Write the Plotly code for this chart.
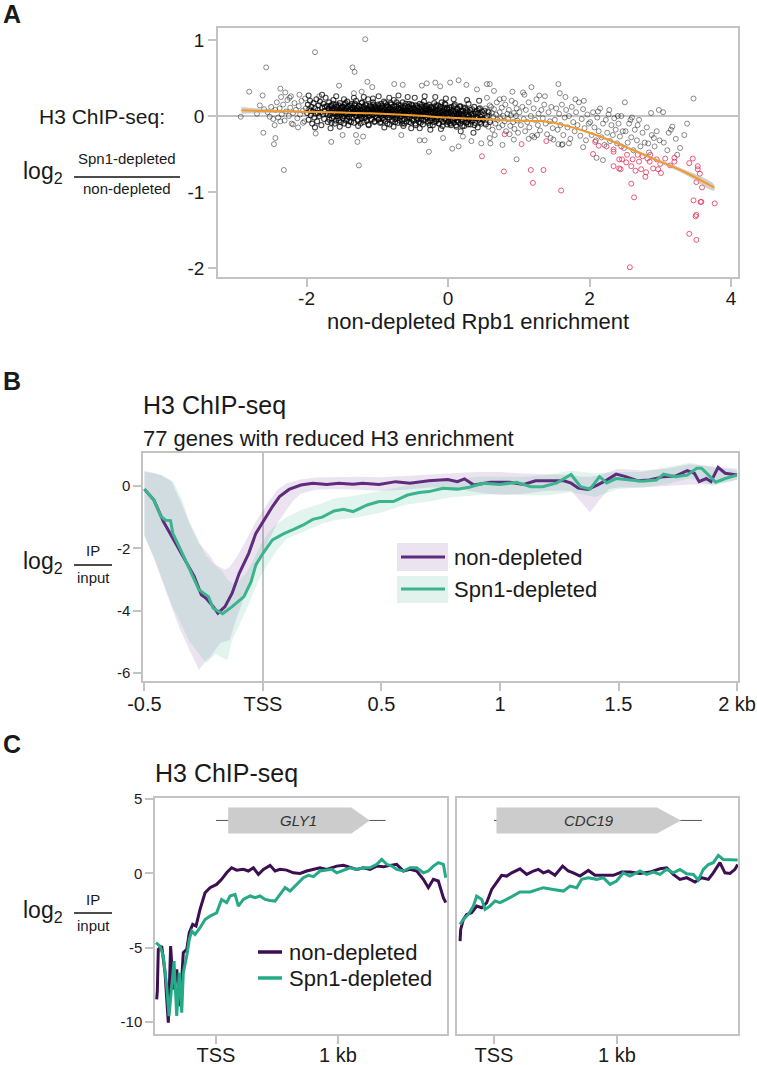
import plotly.graph_objects as go

W, H = 757, 1065
def fx(p): return p / W
def fy(p): return 1 - p / H

FONT = "Liberation Sans"
AX = "#c3c3c3"
TXT = "#1a1a1a"
PURPLE_B = "#5f2b7c"
GREEN_B = "#3bb48e"
PURPLE_C = "#3d0f52"
GREEN_C = "#26a986"

# ---------------- Panel A data (x = non-depleted Rpb1 enrichment, y = log2 ratio) ----------------
outlier_pts = [(-1.17,1.01),(-1.88,0.84),(-2.57,0.64),(-1.35,0.64),(-1.32,0.58),(-2.81,0.32),(-2.62,0.27),
    (-2.37,0.36),(-2.30,0.31),(-2.24,0.24),(-2.10,0.28),(-1.82,0.26),(-1.54,0.40),(-1.33,0.30),(-1.22,0.32),
    (-1.14,0.45),(-1.07,0.38),(-0.76,0.42),(-2.93,-0.01),(-2.61,-0.22),(-2.44,-0.29),(-2.46,-0.37),(-2.32,-0.71),
    (-1.87,-0.23),(-1.65,-0.34),(-1.49,-0.25),(-1.28,-0.34),(-1.26,-0.65),(-1.30,-0.25),(-1.20,-0.27),(-2.19,-0.11),
    (-2.05,-0.09),(-2.52,-0.01),(-2.37,-0.07),(-0.27,-0.47),(0.06,-0.43),(0.15,-0.40),(-0.33,-0.32),(0.47,-0.36),
    (0.60,-0.36),(0.97,-0.57),(1.56,-0.37),(1.62,-0.37),(-0.64,0.41),(-0.37,0.40),(-0.30,0.43),(-0.18,0.44),
    (-0.11,0.39),(0.03,0.44),(0.15,0.47),(0.26,0.41),(0.41,0.35),(0.55,0.42),(0.59,0.42),(0.65,0.33),(0.73,0.22),
    (0.91,0.32),(1.06,0.31),(1.18,0.38),(1.29,0.27),(1.56,0.42),(1.58,0.30),(-0.66,-0.25),(-0.40,-0.32),
    (-0.07,-0.29),(0.21,-0.27),(0.33,-0.33),(0.59,-0.29),(0.77,-0.38),(0.93,-0.31),(1.14,-0.30),(1.26,-0.25),
    (1.49,-0.31),(1.71,-0.36),(2.50,0.18),(3.47,0.23),(2.98,0.08),(3.04,0.05),(2.87,0.04),(3.17,-0.14),(3.15,-0.18),
    (3.34,-0.25),(3.24,-0.51),(2.91,-0.29),(2.83,-0.36),(1.91,-0.41),(2.10,-0.55),(2.19,-0.58),(1.61,-0.38),
    (2.58,-0.05),(2.68,-0.12)]

cloud_far_left = [(-2.55,0.05),(-2.5,0.12),(-2.47,-0.04),(-2.44,0.08),(-2.42,0.18),(-2.4,-0.02),(-2.38,0.1),
    (-2.35,0.02),(-2.33,0.15),(-2.31,-0.06),(-2.29,0.06),(-2.27,0.21),(-2.25,0.0),(-2.23,0.11),(-2.21,-0.1),
    (-2.19,0.04),(-2.17,0.17),(-2.15,0.08),(-2.13,-0.03),(-2.11,0.13),(-2.09,0.02),(-2.07,0.2),(-2.05,0.07),
    (-2.03,-0.07),(-2.01,0.1),(-2.6,0.09),(-2.66,0.14),(-2.7,0.03),(-2.45,-0.12),(-2.36,0.25),(-2.22,0.26),
    (-2.12,-0.15),(-2.02,0.23)]

cloud_left = [(-1.99,0.04),(-1.98,0.15),(-1.97,-0.05),(-1.96,0.09),(-1.95,0.2),(-1.94,0.01),(-1.93,0.12),
    (-1.92,-0.1),(-1.91,0.06),(-1.9,0.17),(-1.89,-0.02),(-1.88,0.1),(-1.87,0.03),(-1.86,0.22),(-1.85,-0.07),
    (-1.84,0.08),(-1.83,0.14),(-1.82,0.0),(-1.81,0.19),(-1.8,0.05),(-1.79,-0.12),(-1.78,0.11),(-1.77,0.02),
    (-1.76,0.16),(-1.75,-0.04),(-1.74,0.07),(-1.73,0.24),(-1.72,0.03),(-1.71,0.13),(-1.7,-0.08),(-1.69,0.09),
    (-1.68,0.18),(-1.67,0.01),(-1.66,0.06),(-1.65,0.14),(-1.64,-0.03),(-1.63,0.1),(-1.62,0.21),(-1.61,0.04),
    (-1.6,-0.1),(-1.59,0.08),(-1.58,0.15),(-1.57,0.0),(-1.56,0.11),(-1.55,0.05),(-1.54,-0.06),(-1.53,0.17),
    (-1.52,0.07),(-1.51,0.02),(-1.5,0.12),(-1.97,0.27),(-1.88,-0.15),(-1.78,0.28),(-1.66,-0.16),(-1.58,0.26),
    (-1.53,-0.14),(-1.94,0.07),(-1.84,0.04),(-1.74,0.12),(-1.64,0.08),(-1.56,0.03),(-1.52,0.1)]

cloud_mid_left = [(-1.49,0.05),(-1.485,-0.03),(-1.48,0.12),(-1.47,0.08),(-1.465,0.0),(-1.46,0.15),(-1.45,0.04),
    (-1.44,-0.06),(-1.43,0.1),(-1.425,0.19),(-1.42,0.02),(-1.41,0.07),(-1.40,-0.01),(-1.395,0.13),(-1.39,0.05),
    (-1.38,0.09),(-1.37,-0.08),(-1.36,0.16),(-1.355,0.03),(-1.35,0.11),(-1.34,0.06),(-1.33,-0.02),(-1.32,0.14),
    (-1.315,0.08),(-1.31,0.01),(-1.30,0.2),(-1.29,0.04),(-1.28,0.1),(-1.275,-0.05),(-1.27,0.07),(-1.26,0.13),
    (-1.25,0.02),(-1.24,0.09),(-1.235,-0.1),(-1.23,0.05),(-1.22,0.17),(-1.21,0.0),(-1.20,0.08),(-1.19,0.12),
    (-1.185,-0.03),(-1.18,0.06),(-1.17,0.15),(-1.16,0.03),(-1.155,0.1),(-1.15,-0.06),(-1.14,0.07),(-1.13,0.22),
    (-1.12,0.01),(-1.115,0.09),(-1.11,0.04),(-1.10,0.14),(-1.09,-0.04),(-1.08,0.06),(-1.075,0.11),(-1.07,0.02),
    (-1.06,0.18),(-1.05,0.05),(-1.04,-0.08),(-1.035,0.08),(-1.03,0.13),(-1.02,0.0),(-1.01,0.07),(-1.0,0.1),
    (-1.47,0.22),(-1.41,-0.12),(-1.33,0.24),(-1.27,-0.13),(-1.19,0.25),(-1.12,-0.12),(-1.06,0.23),(-1.44,0.03),
    (-1.38,0.06),(-1.31,0.09),(-1.24,0.04),(-1.18,0.02),(-1.13,0.05),(-1.08,0.09),(-1.02,0.04)]

cloud_center_left = [(-0.99,0.06),(-0.985,-0.05),(-0.98,0.13),(-0.97,0.02),(-0.965,0.09),(-0.96,-0.09),
    (-0.95,0.04),(-0.945,0.16),(-0.94,0.0),(-0.93,0.07),(-0.925,0.11),(-0.92,-0.03),(-0.91,0.05),(-0.905,0.19),
    (-0.90,0.02),(-0.89,0.09),(-0.885,-0.07),(-0.88,0.12),(-0.87,0.03),(-0.865,0.06),(-0.86,0.14),(-0.85,-0.02),
    (-0.845,0.08),(-0.84,0.01),(-0.83,0.1),(-0.825,-0.11),(-0.82,0.05),(-0.81,0.17),(-0.805,0.03),(-0.80,0.08),
    (-0.79,-0.05),(-0.785,0.12),(-0.78,0.0),(-0.77,0.06),(-0.765,0.21),(-0.76,0.02),(-0.75,0.09),(-0.745,-0.08),
    (-0.74,0.04),(-0.73,0.13),(-0.725,0.01),(-0.72,0.07),(-0.71,-0.03),(-0.705,0.1),(-0.70,0.15),(-0.69,0.03),
    (-0.685,-0.06),(-0.68,0.08),(-0.67,0.0),(-0.665,0.11),(-0.66,0.05),(-0.65,-0.1),(-0.645,0.07),(-0.64,0.18),
    (-0.63,0.02),(-0.625,0.09),(-0.62,-0.04),(-0.61,0.06),(-0.605,0.13),(-0.60,0.01),(-0.59,0.08),(-0.585,-0.07),
    (-0.58,0.04),(-0.57,0.12),(-0.565,0.0),(-0.56,0.07),(-0.55,0.16),(-0.545,-0.02),(-0.54,0.05),(-0.53,0.1),
    (-0.525,-0.09),(-0.52,0.03),(-0.51,0.08),(-0.505,0.14),(-0.98,0.26),(-0.9,-0.15),(-0.83,0.24),(-0.77,-0.14),
    (-0.7,0.27),(-0.63,-0.13),(-0.57,0.25),(-0.52,-0.16),(-0.88,0.04),(-0.74,0.05),(-0.61,0.03)]

cloud_center = [(-0.495,0.03),(-0.49,-0.06),(-0.48,0.1),(-0.475,0.01),(-0.47,0.06),(-0.46,-0.1),(-0.455,0.14),
    (-0.45,0.02),(-0.44,0.07),(-0.435,-0.03),(-0.43,0.11),(-0.42,0.0),(-0.415,0.05),(-0.41,-0.08),(-0.40,0.16),
    (-0.395,0.03),(-0.39,0.08),(-0.38,-0.04),(-0.375,0.12),(-0.37,0.01),(-0.36,0.06),(-0.355,-0.11),(-0.35,0.04),
    (-0.34,0.19),(-0.335,0.0),(-0.33,0.09),(-0.32,-0.05),(-0.315,0.13),(-0.31,0.02),(-0.30,0.07),(-0.295,-0.02),
    (-0.29,0.1),(-0.28,-0.09),(-0.275,0.05),(-0.27,0.15),(-0.26,0.0),(-0.255,0.08),(-0.25,-0.06),(-0.24,0.03),
    (-0.235,0.11),(-0.23,-0.01),(-0.22,0.06),(-0.215,-0.12),(-0.21,0.09),(-0.20,0.02),(-0.195,0.17),(-0.19,-0.04),
    (-0.18,0.05),(-0.175,0.12),(-0.17,-0.07),(-0.16,0.01),(-0.155,0.08),(-0.15,-0.02),(-0.14,0.14),(-0.135,0.03),
    (-0.13,-0.1),(-0.12,0.06),(-0.115,0.0),(-0.11,0.1),(-0.10,-0.05),(-0.095,0.04),(-0.09,0.18),(-0.08,-0.01),
    (-0.075,0.07),(-0.07,-0.08),(-0.06,0.02),(-0.055,0.11),(-0.05,-0.03),(-0.04,0.05),(-0.035,0.15),(-0.03,-0.06),
    (-0.02,0.03),(-0.015,0.09),(-0.01,-0.11),(-0.005,0.01),(-0.47,0.24),(-0.4,-0.16),(-0.33,0.26),(-0.25,-0.18),
    (-0.18,0.25),(-0.1,-0.17),(-0.03,0.23)]

cloud_center_right = [(0.005,0.02),(0.01,-0.07),(0.02,0.09),(0.03,-0.01),(0.035,0.05),(0.04,-0.12),(0.05,0.12),
    (0.06,0.0),(0.065,-0.05),(0.07,0.07),(0.08,-0.09),(0.09,0.03),(0.095,0.15),(0.10,-0.03),(0.11,0.06),
    (0.12,-0.14),(0.125,0.01),(0.13,0.1),(0.14,-0.06),(0.15,0.04),(0.16,-0.02),(0.17,0.13),(0.175,-0.1),
    (0.18,0.02),(0.19,0.07),(0.20,-0.05),(0.21,0.0),(0.22,0.11),(0.23,-0.13),(0.24,0.04),(0.25,-0.03),(0.26,0.08),
    (0.27,-0.08),(0.28,0.01),(0.29,0.16),(0.30,-0.04),(0.31,0.05),(0.32,-0.11),(0.33,0.02),(0.34,0.09),
    (0.35,-0.06),(0.36,0.0),(0.37,0.12),(0.38,-0.09),(0.39,0.03),(0.40,-0.02),(0.41,0.07),(0.42,-0.15),
    (0.43,0.04),(0.44,-0.05),(0.45,0.1),(0.46,-0.01),(0.47,-0.1),(0.48,0.06),(0.49,-0.04),(0.08,0.22),
    (0.18,-0.2),(0.27,0.21),(0.36,-0.22),(0.44,0.2),(0.15,0.02),(0.33,-0.03)]

cloud_right = [(0.51,0.03),(0.52,-0.09),(0.53,0.1),(0.54,-0.02),(0.56,0.06),(0.57,-0.14),(0.58,0.01),(0.59,0.14),
    (0.60,-0.06),(0.62,0.04),(0.63,-0.18),(0.64,-0.01),(0.65,0.09),(0.67,-0.1),(0.68,0.02),(0.69,0.18),
    (0.70,-0.05),(0.72,-0.15),(0.73,0.05),(0.74,-0.03),(0.76,0.11),(0.77,-0.12),(0.78,0.0),(0.80,-0.07),
    (0.81,0.15),(0.82,-0.2),(0.84,0.03),(0.85,-0.04),(0.86,0.08),(0.88,-0.13),(0.89,0.01),(0.90,0.2),(0.92,-0.08),
    (0.93,0.04),(0.94,-0.17),(0.96,0.0),(0.97,0.1),(0.98,-0.06),(0.99,-0.22),(0.55,0.24),(0.66,-0.25),(0.79,0.23),
    (0.87,-0.24),(0.95,0.17),(0.61,0.12),
    (1.01,0.05),(1.03,-0.12),(1.05,0.12),(1.07,-0.04),(1.09,-0.2),(1.1,0.08),(1.12,-0.08),(1.14,0.18),
    (1.15,-0.15),(1.17,0.0),(1.19,-0.26),(1.21,0.1),(1.23,-0.05),(1.25,0.22),(1.27,-0.12),(1.28,0.03),
    (1.3,-0.19),(1.32,0.08),(1.34,-0.03),(1.36,0.15),(1.38,-0.1),(1.4,-0.24),(1.42,0.05),(1.44,-0.07),
    (1.46,0.12),(1.48,-0.16),(1.08,0.28),(1.22,-0.28),(1.37,0.26),(1.45,-0.29)]

cloud_far_right = [(1.51,-0.05),(1.53,0.1),(1.55,-0.18),(1.57,0.03),(1.59,-0.12),(1.61,0.15),(1.63,-0.25),
    (1.65,-0.02),(1.67,0.08),(1.69,-0.15),(1.71,0.0),(1.73,-0.3),(1.75,0.12),(1.77,-0.08),(1.79,-0.2),(1.81,0.05),
    (1.83,-0.12),(1.85,0.18),(1.87,-0.26),(1.89,-0.04),(1.91,0.09),(1.93,-0.16),(1.95,-0.32),(1.97,0.02),
    (1.99,-0.1),(1.66,0.25),(1.8,0.22),(1.92,0.2),
    (2.01,-0.08),(2.03,-0.25),(2.05,0.05),(2.07,-0.15),(2.09,-0.32),(2.11,-0.02),(2.13,-0.2),(2.15,0.1),
    (2.17,-0.28),(2.19,-0.1),(2.21,-0.38),(2.23,-0.05),(2.25,-0.22),(2.27,0.02),(2.29,-0.33),(2.31,-0.12),
    (2.33,-0.25),(2.35,-0.03),(2.37,-0.18),(2.39,-0.36),(2.41,-0.1),(2.43,-0.27),(2.45,0.0),(2.47,-0.2),
    (2.49,-0.42),(2.12,0.06),(2.28,0.08),(2.4,0.0),
    (2.51,-0.2),(2.54,-0.35),(2.56,-0.1),(2.59,-0.28),(2.62,-0.45),(2.64,-0.18),(2.67,-0.32),(2.7,-0.05),
    (2.72,-0.4),(2.75,-0.22),(2.78,-0.35),(2.81,-0.15),(2.84,-0.48),(2.88,-0.25),(2.92,-0.4),(2.95,-0.2),
    (2.99,-0.32),(2.6,-0.02),(3.05,-0.35),(3.1,-0.45),(3.22,-0.3),(3.28,-0.42),(3.12,-0.22),(3.38,-0.1)]

cloud_core_a = [(-1.695,0.02),(-1.688,0.1),(-1.676,-0.05),(-1.662,0.13),(-1.655,0.04),(-1.648,-0.09),
    (-1.637,0.07),(-1.626,0.16),(-1.618,-0.01),(-1.607,0.09),(-1.596,0.03),(-1.584,-0.06),(-1.577,0.12),
    (-1.566,0.06),(-1.553,-0.03),(-1.545,0.14),(-1.537,0.01),(-1.526,0.08),(-1.514,-0.08),(-1.506,0.05),
    (-1.497,0.11),(-1.488,0.0),(-1.476,0.06),(-1.468,-0.1),(-1.457,0.09),(-1.449,0.17),(-1.438,0.03),
    (-1.427,-0.04),(-1.418,0.12),(-1.406,0.06),(-1.397,-0.07),(-1.386,0.02),(-1.378,0.14),(-1.366,0.08),
    (-1.357,-0.01),(-1.346,0.1),(-1.338,0.04),(-1.327,-0.09),(-1.316,0.16),(-1.305,0.07),(-1.296,0.0),
    (-1.284,0.11),(-1.276,-0.06),(-1.265,0.05),(-1.254,0.13),(-1.246,0.01),(-1.236,0.08),(-1.224,-0.03),
    (-1.216,0.18),(-1.205,0.04),(-1.194,-0.08),(-1.186,0.1),(-1.175,0.06),(-1.166,-0.02),(-1.154,0.14),
    (-1.146,0.03),(-1.137,0.09),(-1.125,-0.11),(-1.116,0.07),(-1.105,0.0),(-1.096,0.12),(-1.085,0.05),
    (-1.076,-0.05),(-1.064,0.09),(-1.056,0.15),(-1.045,0.02),(-1.036,-0.07),(-1.024,0.11),(-1.016,0.04),
    (-1.006,-0.02)]

cloud_core_b = [(-0.996,0.08),(-0.987,0.15),(-0.976,-0.04),(-0.968,0.05),(-0.957,0.11),(-0.948,-0.08),
    (-0.936,0.02),(-0.927,0.13),(-0.918,0.06),(-0.906,-0.05),(-0.897,0.09),(-0.888,0.17),(-0.877,0.0),
    (-0.866,0.07),(-0.857,-0.1),(-0.846,0.12),(-0.838,0.04),(-0.826,-0.02),(-0.817,0.1),(-0.806,0.15),
    (-0.797,0.01),(-0.786,-0.07),(-0.777,0.08),(-0.766,0.03),(-0.757,0.13),(-0.746,-0.04),(-0.736,0.06),
    (-0.727,0.18),(-0.716,0.0),(-0.707,-0.09),(-0.696,0.1),(-0.687,0.05),(-0.676,-0.02),(-0.667,0.14),
    (-0.656,0.07),(-0.647,-0.06),(-0.636,0.02),(-0.627,0.11),(-0.616,-0.1),(-0.607,0.04),(-0.596,0.16),
    (-0.587,0.08),(-0.576,-0.03),(-0.567,0.06),(-0.556,0.12),(-0.547,-0.08),(-0.536,0.01),(-0.527,0.09),
    (-0.516,0.15),(-0.507,-0.05),(-0.496,0.05),(-0.487,0.11),(-0.476,-0.01),(-0.467,0.08),(-0.456,-0.12),
    (-0.447,0.03),(-0.436,0.13),(-0.427,0.06),(-0.416,-0.04),(-0.407,0.1),(-0.396,0.0),(-0.387,-0.09),
    (-0.376,0.07),(-0.367,0.15),(-0.356,0.02),(-0.347,-0.06),(-0.336,0.11),(-0.327,0.04),(-0.316,-0.02),
    (-0.307,0.09)]

cloud_core_c = [(-0.296,0.13),(-0.286,-0.07),(-0.277,0.02),(-0.266,0.08),(-0.257,-0.12),(-0.246,0.05),
    (-0.237,0.12),(-0.226,-0.03),(-0.217,0.04),(-0.206,0.1),(-0.197,-0.08),(-0.186,0.0),(-0.177,0.07),
    (-0.166,0.14),(-0.157,-0.05),(-0.146,0.03),(-0.137,0.09),(-0.126,-0.1),(-0.117,0.05),(-0.106,0.12),
    (-0.097,-0.02),(-0.086,0.06),(-0.077,-0.13),(-0.066,0.01),(-0.057,0.08),(-0.046,0.16),(-0.037,-0.04),
    (-0.026,0.04),(-0.017,0.1),(-0.006,-0.08),(0.004,0.05),(0.013,-0.02),(0.024,0.11),(0.033,-0.1),(0.044,0.03),
    (0.053,0.08),(0.064,-0.06),(0.073,0.0),(0.084,0.13),(0.093,-0.04),(0.104,0.06),(0.113,-0.12),(0.124,0.02),
    (0.133,0.09),(0.144,-0.08),(0.153,0.04),(0.164,-0.01),(0.173,0.12),(0.184,-0.06),(0.193,0.03),
    (0.204,-0.13),(0.213,0.07),(0.224,0.0),(0.233,-0.05),(0.244,0.1),(0.253,-0.09),(0.264,0.02),(0.273,0.06),
    (0.284,-0.11),(0.293,0.0),(0.314,0.08),(0.334,-0.07),(0.354,0.03),(0.374,-0.12),(0.394,0.05),(0.414,-0.03),
    (0.434,0.09),(0.454,-0.08),(0.474,0.02),(0.494,-0.05),(0.514,0.07),(0.534,-0.11),(0.554,0.0),(0.574,0.05),
    (0.594,-0.08)]

reduced_pts = [(0.48,-0.53),(0.80,-0.24),(1.04,-0.37),(1.39,-0.33),(0.79,-0.73),(1.17,-0.71),(1.35,-0.71),
    (1.20,-0.88),(1.60,-0.98),(2.05,-0.50),(2.34,-0.44),(2.34,-0.47),(2.24,-0.40),(2.08,-0.34),(2.34,-0.66),
    (2.42,-0.69),(2.44,-0.70),(2.46,-0.57),(2.59,-0.66),(2.61,-0.57),(2.65,-0.72),(2.73,-0.70),(2.80,-0.74),
    (2.79,-0.80),(2.59,-0.89),(2.63,-1.07),(2.57,-1.99),(2.68,-0.51),(2.75,-0.53),(2.82,-0.56),(2.86,-0.51),
    (2.95,-0.57),(3.00,-0.63),(2.97,-0.70),(3.01,-0.75),(3.07,-0.56),(3.14,-0.65),(3.20,-0.55),(3.41,-0.62),
    (3.46,-0.56),(3.53,-0.66),(3.53,-0.70),(3.56,-0.76),(3.51,-0.87),(3.59,-0.94),(3.47,-1.11),(3.57,-1.13),
    (3.58,-1.13),(3.77,-1.15),(3.51,-1.30),(3.50,-1.32),(3.41,-1.55),(3.51,-1.63),(2.42,-0.57),(2.52,-0.61),
    (2.13,-0.39),(2.45,-0.40),(2.53,-0.51),(2.70,-0.60),(2.90,-0.69),(3.20,-0.60),(2.85,-0.60)]

loess_x = [-2.92,-2.5,-2.0,-1.5,-1.1,-0.5,0.0,0.5,0.88,1.35,1.68,2.0,2.29,2.62,2.95,3.33,3.76]
loess_y = [0.075,0.065,0.055,0.045,0.035,0.01,-0.02,-0.04,-0.06,-0.07,-0.13,-0.22,-0.32,-0.45,-0.58,-0.73,-0.94]
loess_se = [0.045,0.025,0.012,0.008,0.006,0.005,0.005,0.006,0.008,0.01,0.012,0.014,0.016,0.018,0.022,0.03,0.04]

# ---------------- Panel B data (kb from TSS, log2 IP/input) ----------------
b_nd_x = [-0.5,-0.46,-0.42,-0.38,-0.34,-0.29,-0.26,-0.24,-0.21,-0.19,-0.16,-0.13,-0.10,-0.06,-0.03,0.0,0.04,0.07,
    0.11,0.16,0.21,0.27,0.32,0.38,0.42,0.49,0.56,0.62,0.70,0.78,0.82,0.85,0.89,0.96,1.04,1.10,1.15,1.27,1.30,
    1.33,1.37,1.41,1.45,1.49,1.53,1.58,1.63,1.69,1.74,1.79,1.82,1.84,1.87,1.89,1.92,1.95,1.98,2.0]
b_nd_y = [-0.1,-0.45,-1.14,-1.68,-2.21,-2.9,-3.49,-3.6,-3.87,-4.08,-3.87,-3.44,-2.8,-2.16,-1.52,-1.14,-0.66,-0.34,
    -0.11,0.03,0.09,0.05,0.09,0.06,0.09,0.05,0.14,0.09,0.17,0.21,0.14,0.23,0.03,0.12,0.12,0.05,0.17,0.17,0.09,
    -0.07,-0.11,0.03,0.19,0.38,0.30,0.17,0.19,0.30,0.32,0.49,0.41,0.14,0.24,0.14,0.6,0.41,0.37,0.35]
b_sd_x = [-0.5,-0.46,-0.43,-0.41,-0.39,-0.38,-0.34,-0.29,-0.27,-0.23,-0.21,-0.17,-0.13,-0.08,-0.05,-0.03,0.0,0.04,
    0.09,0.13,0.17,0.21,0.25,0.30,0.34,0.38,0.44,0.49,0.55,0.61,0.66,0.70,0.76,0.82,0.87,0.93,1.0,1.07,1.13,1.18,
    1.24,1.30,1.34,1.38,1.42,1.45,1.49,1.55,1.60,1.66,1.69,1.74,1.79,1.83,1.85,1.88,1.91,1.95,2.0]
b_sd_y = [-0.1,-0.45,-0.98,-1.1,-1.11,-1.52,-2.16,-2.96,-3.33,-3.55,-3.92,-4.1,-3.87,-3.55,-3.07,-2.53,-2.16,-1.73,
    -1.52,-1.39,-1.25,-1.07,-1.0,-0.8,-0.75,-0.82,-0.61,-0.5,-0.5,-0.29,-0.21,-0.18,-0.07,-0.1,-0.04,0.09,0.05,
    0.12,-0.02,-0.02,0.1,0.37,-0.02,-0.1,0.3,0.1,0.24,0.19,0.15,0.19,0.38,0.3,0.35,0.57,0.57,0.35,0.12,0.24,0.35]
b_nd_band_x = [-0.5,-0.46,-0.43,-0.385,-0.35,-0.31,-0.27,-0.24,-0.22,-0.20,-0.18,-0.16,-0.14,-0.11,-0.07,-0.03,
    0.02,0.06,0.10,0.13,0.16,0.22,0.3,0.4,0.5,0.6,0.7,0.8,0.9,1.0,1.1,1.2,1.3,1.34,1.38,1.42,1.46,1.5,1.6,1.7,
    1.8,1.9,2.0]
b_nd_band_hi = [0.46,0.42,0.35,0.14,-0.45,-1.2,-1.84,-2.1,-2.27,-2.53,-2.6,-2.69,-2.6,-2.27,-1.73,-1.14,-0.55,
    -0.13,0.09,0.15,0.21,0.27,0.28,0.3,0.28,0.32,0.38,0.42,0.45,0.45,0.4,0.38,0.35,0.3,0.3,0.35,0.45,0.55,0.5,
    0.55,0.7,0.62,0.55]
b_nd_band_lo = [-1.6,-2.3,-2.9,-3.9,-4.6,-5.26,-5.9,-5.6,-5.47,-5.25,-5.04,-5.0,-4.94,-4.2,-3.4,-2.6,-1.8,-1.2,
    -0.75,-0.45,-0.25,-0.12,-0.1,-0.12,-0.15,-0.12,-0.05,-0.05,-0.2,-0.3,-0.25,-0.15,-0.15,-0.5,-0.85,-0.45,
    -0.1,-0.05,-0.05,0.0,0.05,0.05,0.2]
b_sd_band_x = [-0.5,-0.46,-0.42,-0.38,-0.34,-0.31,-0.27,-0.24,-0.20,-0.17,-0.15,-0.13,-0.11,-0.07,-0.04,-0.01,
    0.02,0.06,0.10,0.16,0.25,0.3,0.4,0.5,0.6,0.7,0.8,0.9,1.0,1.1,1.2,1.3,1.4,1.5,1.6,1.7,1.8,1.9,2.0]
b_sd_band_hi = [0.5,0.42,0.32,0.15,-0.45,-1.15,-1.8,-2.25,-2.55,-2.75,-3.0,-3.12,-3.1,-2.8,-2.37,-1.9,-1.52,
    -1.2,-1.0,-0.77,-0.55,-0.4,-0.3,-0.15,0.0,0.1,0.2,0.3,0.3,0.3,0.35,0.5,0.4,0.45,0.45,0.6,0.75,0.6,0.5]
b_sd_band_lo = [-1.6,-2.3,-3.1,-3.9,-4.5,-5.0,-5.4,-5.68,-5.4,-5.5,-5.58,-4.94,-4.6,-3.97,-3.4,-2.9,-2.5,-2.05,
    -1.7,-1.5,-1.2,-1.1,-1.0,-0.85,-0.6,-0.5,-0.35,-0.3,-0.25,-0.3,-0.3,-0.2,-0.35,-0.1,-0.05,0.05,0.25,0.0,0.2]
b_xticks = [-0.5, 0, 0.5, 1, 1.5, 2]
b_xticklabels = ["-0.5", "TSS", "0.5", "1", "1.5", "2 kb"]

# ---------------- Panel C data (single genes) ----------------
gly1_nd_x = [-0.486,-0.481,-0.473,-0.445,-0.418,-0.391,-0.372,-0.350,-0.322,-0.295,-0.268,-0.240,-0.219,-0.191,
    -0.164,-0.131,-0.090,-0.049,0.005,0.046,0.087,0.128,0.169,0.224,0.265,0.306,0.347,0.388,0.443,0.484,0.525,
    0.579,0.634,0.689,0.743,0.798,0.852,0.907,0.989,1.044,1.098,1.153,1.208,1.262,1.317,1.372,1.426,1.481,
    1.536,1.590,1.645,1.699,1.740,1.781,1.822,1.863,1.883]
gly1_nd_y = [-8.47,-7.91,-5.11,-4.89,-6.68,-10.04,-4.89,-7.80,-6.46,-8.92,-5.33,-5.11,-3.99,-3.43,-3.54,-2.42,
    -1.30,-0.96,-0.74,-0.40,0.04,0.38,0.22,0.27,0.16,0.38,-0.07,0.27,0.54,0.16,0.27,0.22,0.04,0.0,0.16,0.27,
    0.38,0.27,0.49,0.54,0.38,0.27,0.38,0.27,0.49,0.44,0.54,0.61,0.16,0.27,0.16,-0.40,-0.96,-0.40,-0.51,-1.64,-1.97]
gly1_sd_x = [-0.492,-0.459,-0.432,-0.404,-0.385,-0.363,-0.344,-0.322,-0.301,-0.281,-0.268,-0.240,-0.219,-0.199,
    -0.172,-0.131,-0.090,-0.049,0.005,0.046,0.087,0.115,0.156,0.183,0.224,0.279,0.320,0.361,0.402,0.443,0.484,
    0.525,0.566,0.607,0.661,0.716,0.757,0.798,0.852,0.893,0.948,0.989,1.044,1.098,1.153,1.208,1.262,1.317,
    1.358,1.399,1.440,1.481,1.536,1.590,1.645,1.699,1.740,1.781,1.822,1.863,1.883]
gly1_sd_y = [-4.66,-4.89,-5.56,-7.58,-9.59,-7.58,-5.90,-9.59,-6.68,-9.37,-6.68,-5.56,-4.44,-3.88,-4.10,-3.65,
    -3.10,-2.87,-2.65,-1.75,-1.97,-1.52,-1.41,-2.20,-1.75,-1.52,-1.64,-1.52,-1.75,-1.82,-1.86,-1.41,-0.96,
    -1.19,-0.74,-0.29,-0.13,-0.22,0.16,0.22,0.27,0.04,0.20,0.38,0.27,0.38,0.38,0.61,0.94,0.61,0.49,0.27,0.16,
    0.38,0.38,0.04,0.16,0.49,0.72,0.61,-0.29]
cdc19_nd_x = [-0.276,-0.271,-0.249,-0.222,-0.182,-0.141,-0.100,-0.060,-0.019,0.022,0.062,0.103,0.144,0.211,
    0.266,0.320,0.360,0.401,0.442,0.496,0.558,0.604,0.645,0.699,0.767,0.821,0.889,0.970,1.038,1.106,1.187,
    1.268,1.350,1.404,1.458,1.512,1.566,1.634,1.688,1.743,1.783,1.837,1.878,1.919,1.959,1.981]
cdc19_nd_y = [-4.55,-3.77,-3.09,-2.76,-2.64,-2.20,-2.31,-1.97,-1.08,-0.63,-0.13,-0.18,0.04,0.31,-0.07,0.16,
    0.27,0.04,0.16,-0.13,0.49,0.16,0.04,-0.18,0.20,-0.13,-0.13,-0.13,0.09,0.09,0.0,0.09,0.31,0.38,-0.07,-0.40,
    -0.29,-0.58,-0.29,-0.40,0.04,0.72,0.04,0.0,0.27,0.60]
cdc19_sd_x = [-0.276,-0.249,-0.209,-0.168,-0.141,-0.100,-0.073,-0.033,0.008,0.049,0.103,0.157,0.211,0.293,
    0.347,0.401,0.482,0.564,0.618,0.672,0.713,0.767,0.835,0.889,0.943,0.997,1.051,1.106,1.187,1.241,1.295,
    1.350,1.404,1.458,1.512,1.566,1.621,1.661,1.702,1.743,1.783,1.824,1.864,1.919,1.981]
cdc19_sd_y = [-3.43,-3.09,-2.76,-2.20,-1.52,-1.75,-2.42,-2.20,-1.86,-1.97,-1.75,-1.52,-1.25,-1.25,-1.08,-0.96,
    -1.08,-1.19,-0.85,-0.96,-0.40,-0.29,-0.40,-0.29,-0.74,-0.51,0.04,-0.18,0.16,-0.07,0.09,-0.07,0.27,0.04,
    0.27,-0.02,-0.07,-0.45,0.27,0.60,0.72,1.21,0.94,0.90,0.90]
gene_names = ["GLY1", "CDC19"]
gene_cds_start = [0.10, 0.02]
gene_cds_end = [1.26, 1.52]
gene_tx_start = [0.0, 0.0]
gene_tx_end = [1.39, 1.69]
c_xticks = [0, 1]
c_xticklabels = ["TSS", "1 kb"]

# ---------------- figure ----------------
fig = go.Figure()

sparse_pts = outlier_pts + cloud_far_left + cloud_right + cloud_far_right
dense_pts = (cloud_left + cloud_mid_left + cloud_center_left + cloud_center + cloud_center_right
             + cloud_core_a + cloud_core_b + cloud_core_c)
fig.add_trace(go.Scatter(x=[p[0] for p in sparse_pts], y=[p[1] for p in sparse_pts], mode="markers",
    marker=dict(symbol="circle-open", size=5, color="rgba(0,0,0,0.5)", line=dict(width=0.9)),
    xaxis="x", yaxis="y", showlegend=False, hoverinfo="skip"))
fig.add_trace(go.Scatter(x=[p[0] for p in dense_pts], y=[p[1] for p in dense_pts], mode="markers",
    marker=dict(symbol="circle-open", size=5, color="rgba(0,0,0,0.72)", line=dict(width=1.1)),
    xaxis="x", yaxis="y", showlegend=False, hoverinfo="skip"))
fig.add_trace(go.Scatter(x=[p[0] for p in reduced_pts], y=[p[1] for p in reduced_pts], mode="markers",
    marker=dict(symbol="circle-open", size=5, color="rgba(226,40,80,0.85)", line=dict(width=0.9)),
    xaxis="x", yaxis="y", showlegend=False, hoverinfo="skip"))
band_x = loess_x + loess_x[::-1]
band_y = [y + s for y, s in zip(loess_y, loess_se)] + [y - s for y, s in zip(loess_y, loess_se)][::-1]
fig.add_trace(go.Scatter(x=band_x, y=band_y, fill="toself", mode="lines", line=dict(width=0, shape="spline"),
    fillcolor="rgba(170,170,170,0.55)", xaxis="x", yaxis="y", showlegend=False, hoverinfo="skip"))
fig.add_trace(go.Scatter(x=loess_x, y=loess_y, mode="lines", line=dict(color="#f39a2b", width=2, shape="spline"),
    xaxis="x", yaxis="y", showlegend=False, hoverinfo="skip"))

def band(xs, lo, hi, color, ax, ay):
    fig.add_trace(go.Scatter(x=xs + xs[::-1], y=hi + lo[::-1], fill="toself", mode="lines",
        line=dict(width=0), fillcolor=color, xaxis=ax, yaxis=ay, showlegend=False, hoverinfo="skip"))

band(b_nd_band_x, b_nd_band_lo, b_nd_band_hi, "rgba(140,90,165,0.17)", "x2", "y2")
band(b_sd_band_x, b_sd_band_lo, b_sd_band_hi, "rgba(60,180,140,0.15)", "x2", "y2")
fig.add_trace(go.Scatter(x=b_nd_x, y=b_nd_y, mode="lines", line=dict(color=PURPLE_B, width=3),
    xaxis="x2", yaxis="y2", showlegend=False))
fig.add_trace(go.Scatter(x=b_sd_x, y=b_sd_y, mode="lines", line=dict(color=GREEN_B, width=3),
    xaxis="x2", yaxis="y2", showlegend=False))

# gene models in panel C
GENE_Y, GENE_H = 3.56, 0.87
for i, (ax, ay) in enumerate([("x3", "y3"), ("x4", "y4")]):
    s, e = gene_cds_start[i], gene_cds_end[i]
    tip = 0.13 * (e - s)
    fig.add_trace(go.Scatter(x=[gene_tx_start[i], gene_tx_end[i]], y=[GENE_Y, GENE_Y], mode="lines",
        line=dict(color="#555555", width=1), xaxis=ax, yaxis=ay, showlegend=False, hoverinfo="skip"))
    fig.add_trace(go.Scatter(x=[s, e - tip, e, e - tip, s, s],
        y=[GENE_Y - GENE_H, GENE_Y - GENE_H, GENE_Y, GENE_Y + GENE_H, GENE_Y + GENE_H, GENE_Y - GENE_H],
        fill="toself", mode="lines", line=dict(width=0), fillcolor="#cccccc",
        xaxis=ax, yaxis=ay, showlegend=False, hoverinfo="skip"))

for xs, ys, col, ax, ay in [(gly1_nd_x, gly1_nd_y, PURPLE_C, "x3", "y3"), (gly1_sd_x, gly1_sd_y, GREEN_C, "x3", "y3"),
                            (cdc19_nd_x, cdc19_nd_y, PURPLE_C, "x4", "y4"), (cdc19_sd_x, cdc19_sd_y, GREEN_C, "x4", "y4")]:
    fig.add_trace(go.Scatter(x=xs, y=ys, mode="lines", line=dict(color=col, width=3),
        xaxis=ax, yaxis=ay, showlegend=False))

def axis(**kw):
    d = dict(showline=True, mirror=True, linecolor=AX, linewidth=1.5, ticks="outside", ticklen=8,
             tickwidth=1.5, tickcolor=AX, showgrid=False, zeroline=False, automargin=False,
             tickfont=dict(family=FONT, size=19, color=TXT))
    d.update(kw)
    return d

fig.update_layout(
    width=W, height=H, margin=dict(l=0, r=0, t=0, b=0, pad=0, autoexpand=False), autosize=False,
    paper_bgcolor="white", plot_bgcolor="white", showlegend=False,
    font=dict(family=FONT, color=TXT),
    xaxis=axis(domain=[fx(218), fx(738)], range=[-3.251, 4.099], tickvals=[-2, 0, 2, 4],
               ticktext=["-2", "0", "2", "4"], anchor="y", ticklabelstandoff=-5),
    yaxis=axis(domain=[fy(277), fy(28)], range=[-2.118, 1.158], tickvals=[1, 0, -1, -2],
               ticktext=["1", "0", "-1", "-2"], anchor="x", zeroline=True, zerolinecolor=AX, zerolinewidth=1.5),
    xaxis2=axis(domain=[fx(143), fx(738)], range=[-0.506, 2.004], tickvals=b_xticks, ticktext=b_xticklabels,
                anchor="y2", zeroline=True, zerolinecolor=AX, zerolinewidth=1.5, ticklabelstandoff=-4,
                tickfont=dict(family=FONT, size=20, color=TXT)),
    yaxis2=axis(domain=[fy(681), fy(453)], range=[-6.257, 1.059], tickvals=[0, -2, -4, -6],
                ticktext=["0", "-2", "-4", "-6"], anchor="x2", tickfont=dict(family=FONT, size=15, color=TXT)),
    xaxis3=axis(domain=[fx(155), fx(447)], range=[-0.5, 1.893], tickvals=c_xticks, ticktext=c_xticklabels,
                anchor="y3", ticklabelstandoff=-6, tickfont=dict(family=FONT, size=20, color=TXT)),
    yaxis3=axis(domain=[fy(1034), fy(798)], range=[-10.8, 5.07], tickvals=[5, 0, -5, -10],
                ticktext=["5", "0", "-5", "-10"], anchor="x3", tickfont=dict(family=FONT, size=15, color=TXT)),
    xaxis4=axis(domain=[fx(457), fx(738)], range=[-0.301, 1.984], tickvals=c_xticks, ticktext=c_xticklabels,
                anchor="y4", ticklabelstandoff=-6, tickfont=dict(family=FONT, size=20, color=TXT)),
    yaxis4=axis(domain=[fy(1034), fy(798)], range=[-10.8, 5.07], anchor="x4", ticks="",
                showticklabels=False, matches="y3"),
)

ann = []
def text(t, x, y, size, xanchor="left", bold=False, **kw):
    ann.append(dict(text=("<b>%s</b>" % t) if bold else t, x=fx(x), y=fy(y), xref="paper", yref="paper",
                    xanchor=xanchor, yanchor="middle", showarrow=False,
                    font=dict(family=FONT, size=size, color=kw.pop("color", TXT)), **kw))

# panel letters
text("A", 1, 14, 25, bold=True)
text("B", 1, 381, 25, bold=True)
text("C", 1, 744, 25, bold=True)
# panel A labels
text("H3 ChIP-seq:", 167, 116, 21, xanchor="right")
text("log<sub>2</sub>", 21, 173, 23)
text("Spn1-depleted", 127, 158, 15, xanchor="center")
text("non-depleted", 127, 188, 15, xanchor="center")
text("non-depleted Rpb1 enrichment", 478, 321, 22, xanchor="center")
# panel B labels
text("H3 ChIP-seq", 141, 405, 25)
text("77 genes with reduced H3 enrichment", 141, 438, 22)
text("log<sub>2</sub>", 21, 562, 23)
text("IP", 93, 550, 15, xanchor="center")
text("input", 93, 577, 15, xanchor="center")
text("non-depleted", 452, 557, 22)
text("Spn1-depleted", 452, 589, 22)
# panel C labels
text("H3 ChIP-seq", 153, 773, 25)
text("log<sub>2</sub>", 21, 911, 23)
text("IP", 93, 899, 15, xanchor="center")
text("input", 93, 925, 15, xanchor="center")
text("non-depleted", 287, 952, 22)
text("Spn1-depleted", 287, 978, 22)
# gene names
for i, (ax, ay) in enumerate([("x3", "y3"), ("x4", "y4")]):
    ann.append(dict(text="<i>%s</i>" % gene_names[i], x=(gene_cds_start[i] + gene_cds_end[i]) / 2, y=GENE_Y,
                    xref=ax, yref=ay, showarrow=False, xanchor="center", yanchor="middle",
                    font=dict(family=FONT, size=15, color="#333333")))

shapes = []
def hline(x0, x1, y, color="#111111", width=1.5):
    shapes.append(dict(type="line", xref="paper", yref="paper", x0=fx(x0), x1=fx(x1), y0=fy(y), y1=fy(y),
                       line=dict(color=color, width=width)))
def rect(x0, x1, y0, y1, color):
    shapes.append(dict(type="rect", xref="paper", yref="paper", x0=fx(x0), x1=fx(x1), y0=fy(y1), y1=fy(y0),
                       line=dict(width=0), fillcolor=color))

hline(74, 180, 177)
hline(74, 112, 565)
hline(74, 112, 913)
rect(397, 448, 543, 571, "#ece3f0")
rect(397, 448, 576, 603, "#e1f3ec")
hline(401, 445, 557, PURPLE_B, 3)
hline(401, 445, 589, GREEN_B, 3)
hline(258, 282, 952, PURPLE_C, 3.5)
hline(258, 282, 978, GREEN_C, 3.5)

fig.update_layout(annotations=ann, shapes=shapes)
fig.write_html("out.html", config={"displayModeBar": False},
               post_script="document.body.style.margin='0px';document.body.style.overflow='hidden';")
